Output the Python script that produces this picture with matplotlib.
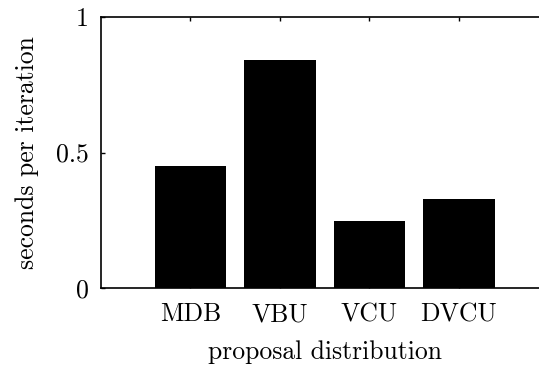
import matplotlib
matplotlib.use("Agg")
import matplotlib.pyplot as plt
import numpy as np

# Time per iteration for each proposal distribution
methods = ["MDB", "VBU", "VCU", "DVCU"]
seconds = [0.45, 0.84, 0.25, 0.33]
yticks = [0, 0.5, 1]
yticklabels = ["0", "0.5", "1"]

plt.rcParams["font.family"] = "cmr10"
plt.rcParams["axes.formatter.use_mathtext"] = True

fig = plt.figure(figsize=(5.39, 3.70), dpi=100)
ax = fig.add_axes([0.1874, 0.2203, 0.830, 0.7346])

x = np.arange(1, len(methods) + 1)
ax.bar(x, seconds, width=0.8, color="black", edgecolor="black", linewidth=0)

ax.set_xlim(0, 5)
ax.set_ylim(0, 1)
ax.set_xticks(x)
ax.set_xticklabels(methods)
ax.set_yticks(yticks)
ax.set_yticklabels(yticklabels)

ax.spines["right"].set_visible(False)
for s in ["left", "top", "bottom"]:
    ax.spines[s].set_linewidth(1.2)

fs = 18.5
ax.tick_params(axis="x", direction="in", top=True, bottom=True, length=3,
               width=1, labelsize=fs, pad=10)
ax.tick_params(axis="y", direction="in", right=False, length=3,
               width=1, labelsize=fs, pad=9)

ax.set_xlabel("proposal distribution", fontsize=fs, labelpad=10)
ax.set_ylabel("seconds per iteration", fontsize=fs, labelpad=12)

fig.savefig("out.png", dpi=100)
